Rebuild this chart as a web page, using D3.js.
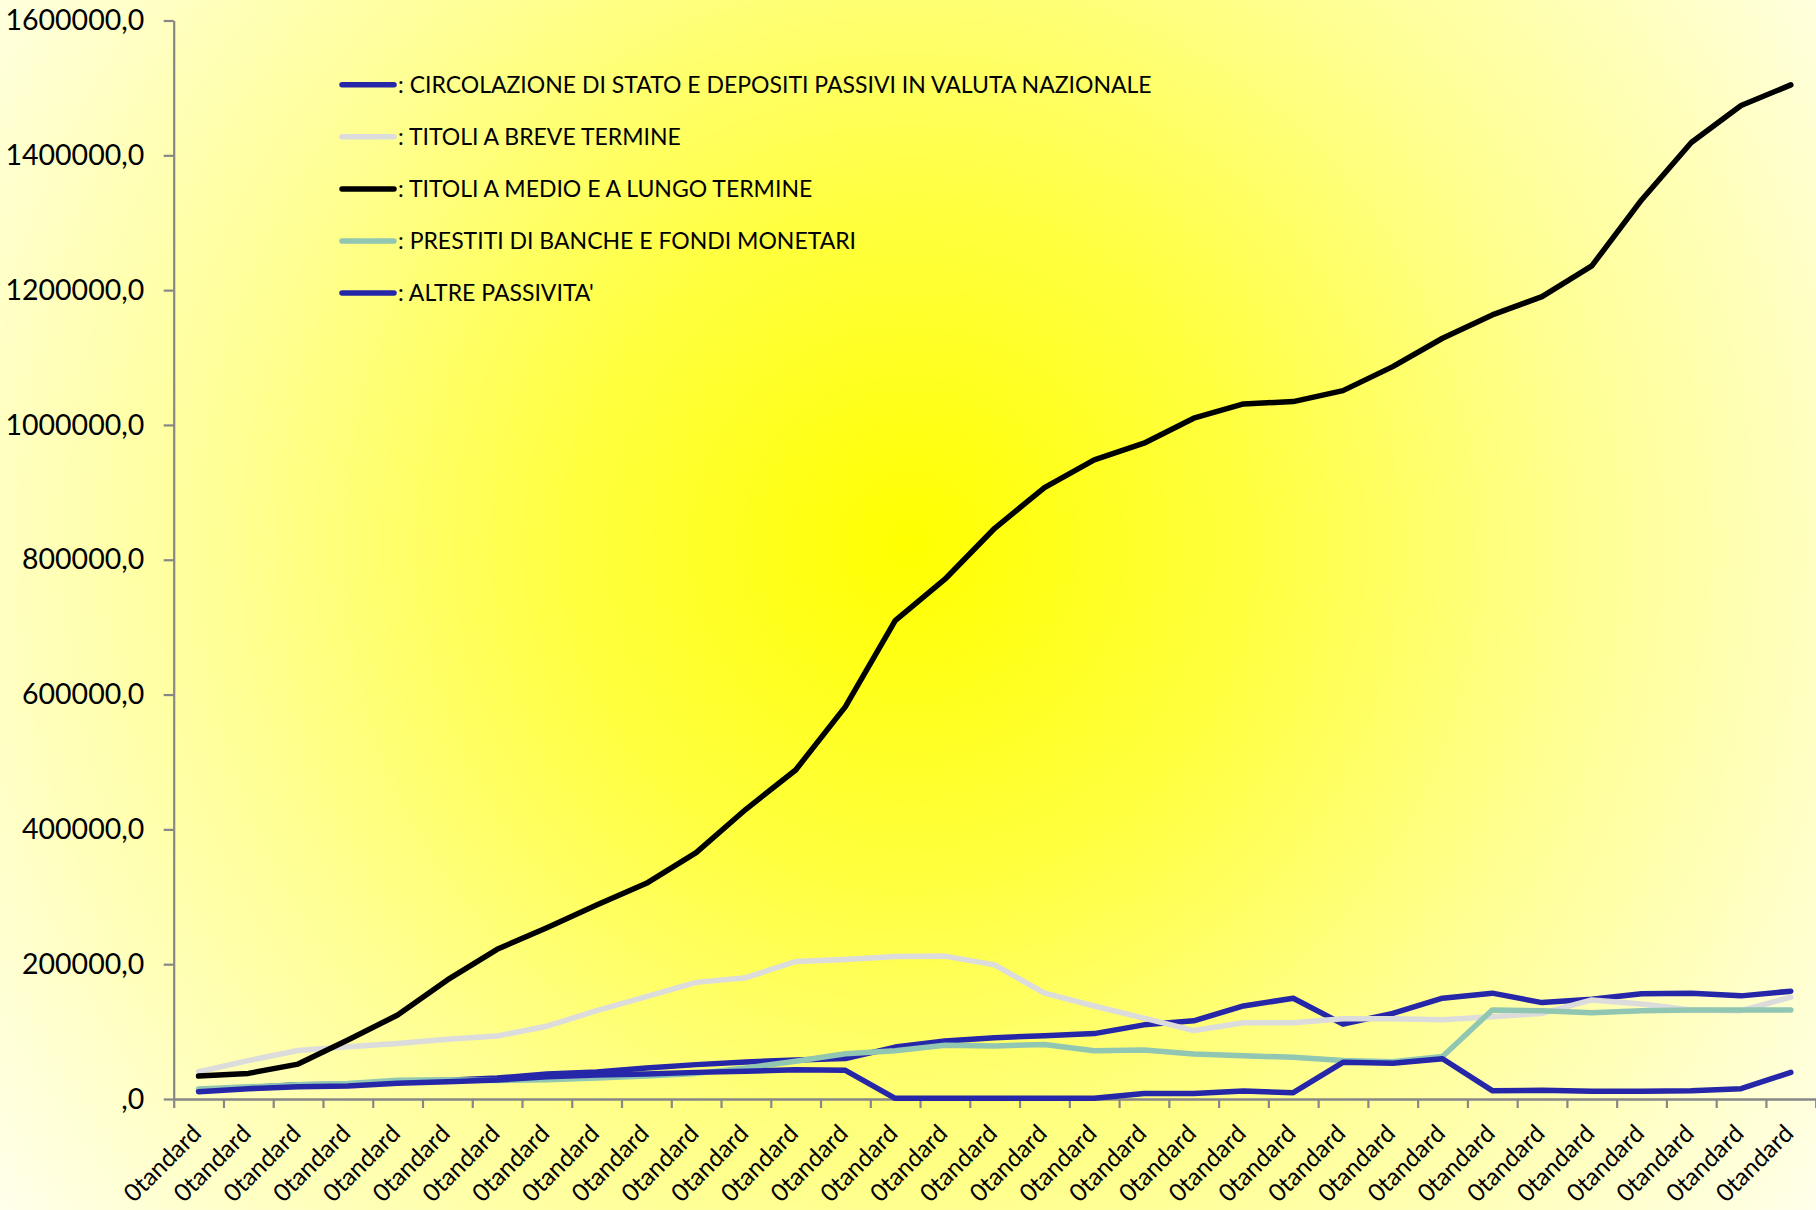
<!DOCTYPE html>
<html>
<head>
<meta charset="utf-8">
<script src="https://cdn.jsdelivr.net/npm/d3@7"></script>
<style>
  html, body { margin: 0; padding: 0; background: #fffff0; }
  svg { display: block; }
</style>
</head>
<body>
<svg id="chart" width="1816" height="1210"></svg>
<script>
// ---- data ----
const categories = [
  "0tandard","0tandard","0tandard","0tandard","0tandard","0tandard","0tandard","0tandard",
  "0tandard","0tandard","0tandard","0tandard","0tandard","0tandard","0tandard","0tandard",
  "0tandard","0tandard","0tandard","0tandard","0tandard","0tandard","0tandard","0tandard",
  "0tandard","0tandard","0tandard","0tandard","0tandard","0tandard","0tandard","0tandard",
  "0tandard"
];

const yTicks = [0, 200000, 400000, 600000, 800000, 1000000, 1200000, 1400000, 1600000];
const yTickLabels = [",0", "200000,0", "400000,0", "600000,0", "800000,0",
                     "1000000,0", "1200000,0", "1400000,0", "1600000,0"];

const seriesNames = [
  ": CIRCOLAZIONE DI STATO E DEPOSITI PASSIVI IN VALUTA NAZIONALE",
  ": TITOLI A BREVE TERMINE",
  ": TITOLI A MEDIO E A LUNGO TERMINE",
  ": PRESTITI DI BANCHE E FONDI MONETARI",
  ": ALTRE PASSIVITA'"
];

const circolazione = [12400, 17000, 21000, 22000, 25000, 28000, 31000, 37000, 40000, 46000,
  51000, 55000, 58000, 60000, 77000, 86000, 91000, 94000, 97000, 110000,
  116000, 138000, 149500, 111000, 127000, 149500, 157000, 143000, 148000, 156000,
  157000, 153000, 160000];

const titoliBreve = [40500, 57000, 72000, 77500, 82500, 88500, 93500, 108000, 131000, 152000,
  173000, 180000, 204000, 207000, 211500, 212000, 199000, 157000, 138000, 120000,
  101500, 113000, 113000, 119000, 119000, 117500, 122000, 127000, 147000, 141000,
  132000, 131000, 151000];

const titoliMedioLungo = [34000, 38000, 51800, 87500, 124600, 176600, 222100, 254200, 287800, 320000,
  365500, 429800, 488100, 582100, 709700, 771100, 846700, 907000, 948100, 972900,
  1010000, 1031200, 1034600, 1050900, 1086500, 1128600, 1163200, 1190400, 1235900, 1333800,
  1418900, 1473800, 1504500];

const prestiti = [15000, 18000, 21000, 23000, 28000, 28500, 27500, 28500, 31000, 34000,
  38000, 46000, 56000, 67000, 71700, 79600, 78600, 81000, 71700, 72700,
  66800, 64000, 62000, 57000, 55400, 63000, 132000, 131000, 128000, 131000,
  132000, 132000, 132000];

const altrePassivita = [10900, 15300, 18300, 19300, 23200, 25700, 28200, 33100, 35600, 37100,
  39500, 41000, 43500, 42500, 1000, 1000, 1000, 1000, 1000, 8000,
  8000, 11900, 9400, 54400, 52900, 59800, 12400, 12800, 11400, 11400,
  12400, 15300, 39600];

const seriesValues = [circolazione, titoliBreve, titoliMedioLungo, prestiti, altrePassivita];

// ---- styles ----
const seriesColors = ["#2626a8", "#dcdcdc", "#000000", "#90c6b2", "#2626a8"];
const FONT = "Lato, 'Open Sans', 'DejaVu Sans', sans-serif";
const AXIS = "#878787";

const W = 1816, H = 1210;
const plot = { left: 173.7, right: 1815.7, top: 20.5, bottom: 1099 };

const svg = d3.select("#chart");

// background: bright yellow centre fading to cream
const defs = svg.append("defs");
const grad = defs.append("radialGradient")
  .attr("id", "bg")
  .attr("gradientUnits", "userSpaceOnUse")
  .attr("cx", 910).attr("cy", 545).attr("r", 1140);
[[0, "#ffff00"], [0.3, "#ffff40"], [0.6, "#ffff95"], [1, "#ffffee"]]
  .forEach(([o, c]) => grad.append("stop").attr("offset", o).attr("stop-color", c));
svg.append("rect").attr("width", W).attr("height", H).attr("fill", "url(#bg)");

// scales
const idx = d3.range(categories.length);
const x = d3.scaleBand().domain(idx).range([plot.left, plot.right]).padding(0);
const xEdge = d3.scaleLinear().domain([0, categories.length]).range([plot.left, plot.right]);
const y = d3.scaleLinear().domain([0, 1600000]).range([plot.bottom, plot.top]);

// y axis
const gy = svg.append("g")
  .attr("transform", `translate(${plot.left},0)`)
  .call(d3.axisLeft(y).tickValues(yTicks)
    .tickFormat((d, i) => yTickLabels[i])
    .tickSize(10).tickSizeOuter(0).tickPadding(19.5));
gy.select(".domain").attr("stroke", AXIS).attr("stroke-width", 2.2);
gy.selectAll(".tick line").attr("stroke", AXIS).attr("stroke-width", 2.2);
gy.selectAll(".tick text")
  .attr("font-family", FONT).attr("font-size", 28.5).attr("fill", "#000");

// x axis: tick marks on category boundaries
const gx = svg.append("g")
  .attr("transform", `translate(0,${plot.bottom})`)
  .call(d3.axisBottom(xEdge).tickValues(d3.range(categories.length + 1))
    .tickFormat("").tickSize(9).tickSizeOuter(0));
gx.select(".domain").attr("stroke", AXIS).attr("stroke-width", 2.5);
gx.selectAll(".tick line").attr("stroke", AXIS).attr("stroke-width", 2.2);

// x axis: rotated category labels
const gl = svg.append("g")
  .attr("transform", `translate(0,${plot.bottom})`)
  .call(d3.axisBottom(x).tickFormat(i => categories[i]).tickSize(0));
gl.select(".domain").remove();
gl.selectAll(".tick text")
  .attr("x", 0).attr("y", 0).attr("dy", "0.35em")
  .attr("text-anchor", "end")
  .attr("transform", "translate(-2,30) rotate(-45)")
  .attr("font-family", FONT).attr("font-size", 24.5).attr("fill", "#000");

// series lines
const line = d3.line()
  .x((d, i) => x(i) + x.bandwidth() / 2)
  .y(d => y(d));

svg.append("g").selectAll("path")
  .data(seriesValues)
  .join("path")
  .attr("d", line)
  .attr("fill", "none")
  .attr("stroke", (d, i) => seriesColors[i])
  .attr("stroke-width", 5.5)
  .attr("stroke-linejoin", "round")
  .attr("stroke-linecap", "round");

// legend
const legend = svg.append("g");
const rows = legend.selectAll("g")
  .data(seriesNames)
  .join("g")
  .attr("transform", (d, i) => `translate(0,${84.7 + 52.1 * i})`);
rows.append("line")
  .attr("x1", 342).attr("x2", 394).attr("y1", 0).attr("y2", 0)
  .attr("stroke", (d, i) => seriesColors[i])
  .attr("stroke-width", 5.5)
  .attr("stroke-linecap", "round");
rows.append("text")
  .attr("x", 398).attr("y", 0).attr("dy", "0.36em")
  .attr("font-family", FONT).attr("font-size", 23).attr("fill", "#000")
  .text(d => d);
</script>
</body>
</html>
